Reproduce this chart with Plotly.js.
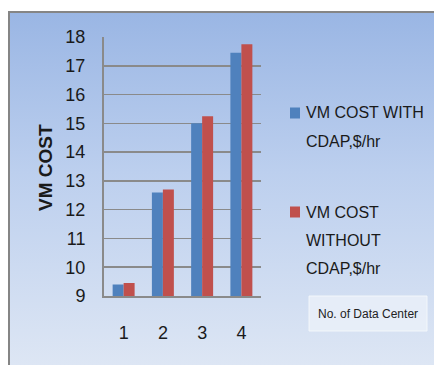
<!DOCTYPE html>
<html>
<head>
<meta charset="utf-8">
<script src="https://cdn.plot.ly/plotly-3.0.1.min.js"></script>
<style>
  html, body { margin:0; padding:0; background:#ffffff; width:434px; height:365px; overflow:hidden; }
  #bg { position:absolute; left:8px; top:11px; width:426px; height:354px;
        border-left:2px solid #858585; border-top:2px solid #858585; box-sizing:border-box;
        background:linear-gradient(to bottom, #9ab6e4 0%, #bccfee 45%, #dde6f4 100%); }
  #chart { position:absolute; left:0; top:0; width:434px; height:365px; }
</style>
</head>
<body>
<div id="bg"></div>
<div id="chart"></div>
<script>
const categories = ["1", "2", "3", "4"];
const seriesNames = ["VM COST WITH<br>CDAP,$/hr", "VM COST<br>WITHOUT<br>CDAP,$/hr"];
const withCdap = [9.4, 12.6, 15.0, 17.45];
const withoutCdap = [9.45, 12.7, 15.25, 17.75];
const yTicks = [9, 10, 11, 12, 13, 14, 15, 16, 17, 18];
const yTitle = "VM COST";
const xTitle = "No. of Data Center";
const colors = ["#4f81bd", "#c0504d"];

const W = 434, H = 365;
const L = 104, R = 261, T = 37, B = 296;
const pw = R - L, ph = B - T;
const px = x => (x - L) / pw;
const py = y => (B - y) / ph;

const font = "Liberation Sans, Arial, sans-serif";

const traces = [withCdap, withoutCdap].map((vals, i) => ({
  type: "bar", x: categories, y: vals, name: seriesNames[i],
  marker: { color: colors[i] }, showlegend: false, hoverinfo: "skip"
}));

// custom legend
const annotations = [];
const shapes = [];
const legendTop = [113, 212];
seriesNames.forEach((nm, i) => {
  const lines = nm.split("<br>");
  shapes.push({ type: "rect", xref: "paper", yref: "paper",
    x0: px(290), x1: px(300), y0: py(legendTop[i] - 5.5), y1: py(legendTop[i] + 5.5),
    fillcolor: colors[i], line: { width: 0 } });
  lines.forEach((ln, j) => {
    annotations.push({ xref: "paper", yref: "paper", x: px(304), y: py(legendTop[i] + j * 28.3),
      xanchor: "left", yanchor: "middle", text: ln, showarrow: false,
      font: { family: font, size: 16, color: "#1a1a1a" } });
  });
});

// x title box
shapes.push({ type: "rect", xref: "paper", yref: "paper",
  x0: px(309), x1: px(427), y0: py(331), y1: py(296),
  fillcolor: "rgba(236,241,249,0.75)", line: { color: "rgba(245,248,252,0.9)", width: 1 } });
annotations.push({ xref: "paper", yref: "paper", x: px(368), y: py(314),
  xanchor: "center", yanchor: "middle", text: xTitle, showarrow: false,
  font: { family: font, size: 12, color: "#222222" } });

// y title
annotations.push({ xref: "paper", yref: "paper", x: px(45), y: py(167),
  xanchor: "center", yanchor: "middle", text: "<b>" + yTitle + "</b>", textangle: -90,
  showarrow: false, font: { family: font, size: 19, color: "#1a1a1a" } });

const layout = {
  width: W, height: H,
  margin: { l: L, r: W - R, t: T, b: H - B, pad: 0 },
  paper_bgcolor: "rgba(0,0,0,0)", plot_bgcolor: "rgba(0,0,0,0)",
  barmode: "group", bargap: 0.44, bargroupgap: 0,
  showlegend: false,
  xaxis: {
    type: "category", categoryarray: categories, showgrid: false,
    showline: true, linecolor: "#8a8a8a", linewidth: 2,
    ticks: "", ticklabelstandoff: 19,
    tickfont: { family: font, size: 18, color: "#1a1a1a" }, fixedrange: true
  },
  yaxis: {
    range: [9, 18], tickvals: yTicks, ticktext: yTicks.map(String),
    showgrid: true, gridcolor: "#8a8a8a", gridwidth: 1.5,
    showline: true, linecolor: "#8a8a8a", linewidth: 2,
    zeroline: false, ticks: "", ticklabelstandoff: 13,
    tickfont: { family: font, size: 18, color: "#1a1a1a" }, fixedrange: true
  },
  annotations: annotations, shapes: shapes
};

Plotly.newPlot("chart", traces, layout, { displayModeBar: false, staticPlot: true });
</script>
</body>
</html>
